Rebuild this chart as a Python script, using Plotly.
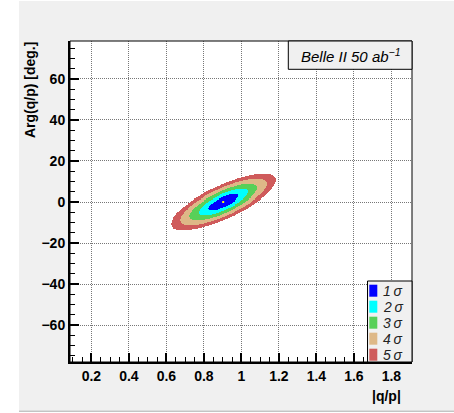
import numpy as np
import plotly.graph_objects as go

# ---- data (fit result and contour levels) ----
best_fit_qp = [0.903]          # |q/p| best fit
best_fit_arg = [0.0]           # Arg(q/p) best fit [deg]
sigma_qp = 0.052               # uncertainty on |q/p|
sigma_arg = 2.6                # uncertainty on Arg(q/p) [deg]
correlation = 0.77             # correlation coefficient
sigma_labels = ["1σ", "2σ", "3σ", "4σ", "5σ"]
delta_chi2_levels = [2.30, 6.18, 11.83, 19.33, 28.74]   # 2-dof levels for 1..5 sigma
sigma_colors = ["#0000ff", "#00ffff", "#58d058", "#deb887", "#cf5b5b"]
x_ticks = [0.2, 0.4, 0.6, 0.8, 1.0, 1.2, 1.4, 1.6, 1.8]
x_tick_text = ["0.2", "0.4", "0.6", "0.8", "1", "1.2", "1.4", "1.6", "1.8"]
y_ticks = [-60, -40, -20, 0, 20, 40, 60]

# ---- histogram of delta chi2 on a binned grid ----
xb = np.arange(0.55, 1.30, 0.005)
yb = np.arange(-18.0, 18.0, 0.5)
X, Y = np.meshgrid(xb, yb)
dx = (X - best_fit_qp[0]) / sigma_qp
dy = (Y - best_fit_arg[0]) / sigma_arg
chi2 = (dx**2 - 2 * correlation * dx * dy + dy**2) / (1 - correlation**2)
lvl = np.searchsorted(delta_chi2_levels, chi2) + 1.0
lvl[lvl > len(delta_chi2_levels)] = np.nan

cs = []
n = len(sigma_colors)
for i, c in enumerate(sigma_colors):
    cs.append([i / n, c])
    cs.append([(i + 1) / n, c])

fig = go.Figure()
fig.add_trace(go.Heatmap(x=xb, y=yb, z=lvl, colorscale=cs, zmin=0.5, zmax=n + 0.5,
                         showscale=False, hoverinfo="skip", zsmooth=False))
fig.add_trace(go.Scatter(x=best_fit_qp, y=best_fit_arg, mode="markers",
                         marker=dict(color="#ffff00", size=2, symbol="square"),
                         showlegend=False, hoverinfo="skip"))

W, H = 454, 413
L, R, T, B = 70, 42, 41, 51
PW, PH = W - L - R, H - T - B


def px(x):
    return (x - L) / PW


def py(y):
    return (H - B - y) / PH


shapes = []
# canvas grey background
shapes.append(dict(type="rect", xref="paper", yref="paper", x0=px(19), x1=px(460),
                   y0=py(410.5), y1=py(1), fillcolor="#f0f0f0", line_width=0, layer="below"))
shapes.append(dict(type="line", xref="paper", yref="paper", x0=px(19), x1=px(460),
                   y0=py(411.3), y1=py(411.3), line=dict(color="#c4c4c4", width=1.5), layer="below"))
# plot area white
shapes.append(dict(type="rect", xref="paper", yref="paper", x0=0, x1=1, y0=0, y1=1,
                   fillcolor="white", line_width=0, layer="below"))
# frame
shapes.append(dict(type="rect", xref="paper", yref="paper", x0=0, x1=1, y0=0, y1=1,
                   line=dict(color="black", width=1), layer="above"))
# title box
shapes.append(dict(type="rect", xref="paper", yref="paper", x0=px(288.3), x1=1,
                   y0=py(69.3), y1=1, fillcolor="#f0f0f0", line=dict(color="black", width=1),
                   layer="above"))
# legend box
shapes.append(dict(type="rect", xref="paper", yref="paper", x0=px(367.5), x1=1,
                   y0=0, y1=py(281), fillcolor="#f0f0f0", line=dict(color="black", width=1),
                   layer="above"))

annotations = []
for i, (lab, col) in enumerate(zip(sigma_labels, sigma_colors)):
    yc = 290.7 + 16 * i
    shapes.append(dict(type="rect", xref="paper", yref="paper", x0=px(369.3), x1=px(377.3),
                       y0=py(yc + 6), y1=py(yc - 6), fillcolor=col, line_width=0, layer="above"))
    annotations.append(dict(text=lab.replace("σ", "\u2009σ"), xref="paper", yref="paper",
                            x=px(381), y=py(yc), xanchor="left", yanchor="middle", showarrow=False,
                            font=dict(family="Liberation Sans", size=14, color="#222", style="italic")))

annotations.append(dict(text="Belle II 50 ab<sup>−1</sup>", xref="paper", yref="paper",
                        x=px(350.5), y=py(55.5), xanchor="center", yanchor="middle", showarrow=False,
                        font=dict(family="Liberation Sans", size=15, color="black", style="italic")))
annotations.append(dict(text="<b>Arg(q/p) [deg.]</b>", xref="paper", yref="paper", textangle=-90,
                        x=px(30), y=py(40), xanchor="center", yanchor="top", showarrow=False,
                        font=dict(family="Liberation Sans", size=14, color="black")))
annotations.append(dict(text="<b>|q/p|</b>", xref="paper", yref="paper",
                        x=px(403), y=py(396), xanchor="right", yanchor="middle", showarrow=False,
                        font=dict(family="Liberation Sans", size=14, color="black")))

axis_common = dict(showgrid=True, gridcolor="#777777", griddash="1px,1px", gridwidth=1,
                   ticks="inside", ticklen=9, tickwidth=1.5, tickcolor="black",
                   showline=True, linecolor="black", linewidth=2, mirror=False, zeroline=False,
                   tickfont=dict(family="Liberation Sans", size=14, color="black", weight="bold"),
                   minor=dict(ticks="inside", ticklen=5, tickwidth=1, tickcolor="black", showgrid=False))

fig.update_layout(
    width=W, height=H, margin=dict(l=L, r=R, t=T, b=B),
    paper_bgcolor="white", plot_bgcolor="white", showlegend=False,
    xaxis=dict(range=[0.086, 1.91], tickvals=x_ticks, ticktext=x_tick_text, **axis_common),
    yaxis=dict(range=[-78, 78.5], tickvals=y_ticks, **axis_common),
    shapes=shapes, annotations=annotations,
)
fig.update_xaxes(minor=dict(dtick=0.05, tick0=0))
fig.update_yaxes(minor=dict(dtick=5, tick0=0))

fig.write_html("out.html", config={"displayModeBar": False},
               post_script="document.body.style.margin='0';document.body.style.padding='0';")
